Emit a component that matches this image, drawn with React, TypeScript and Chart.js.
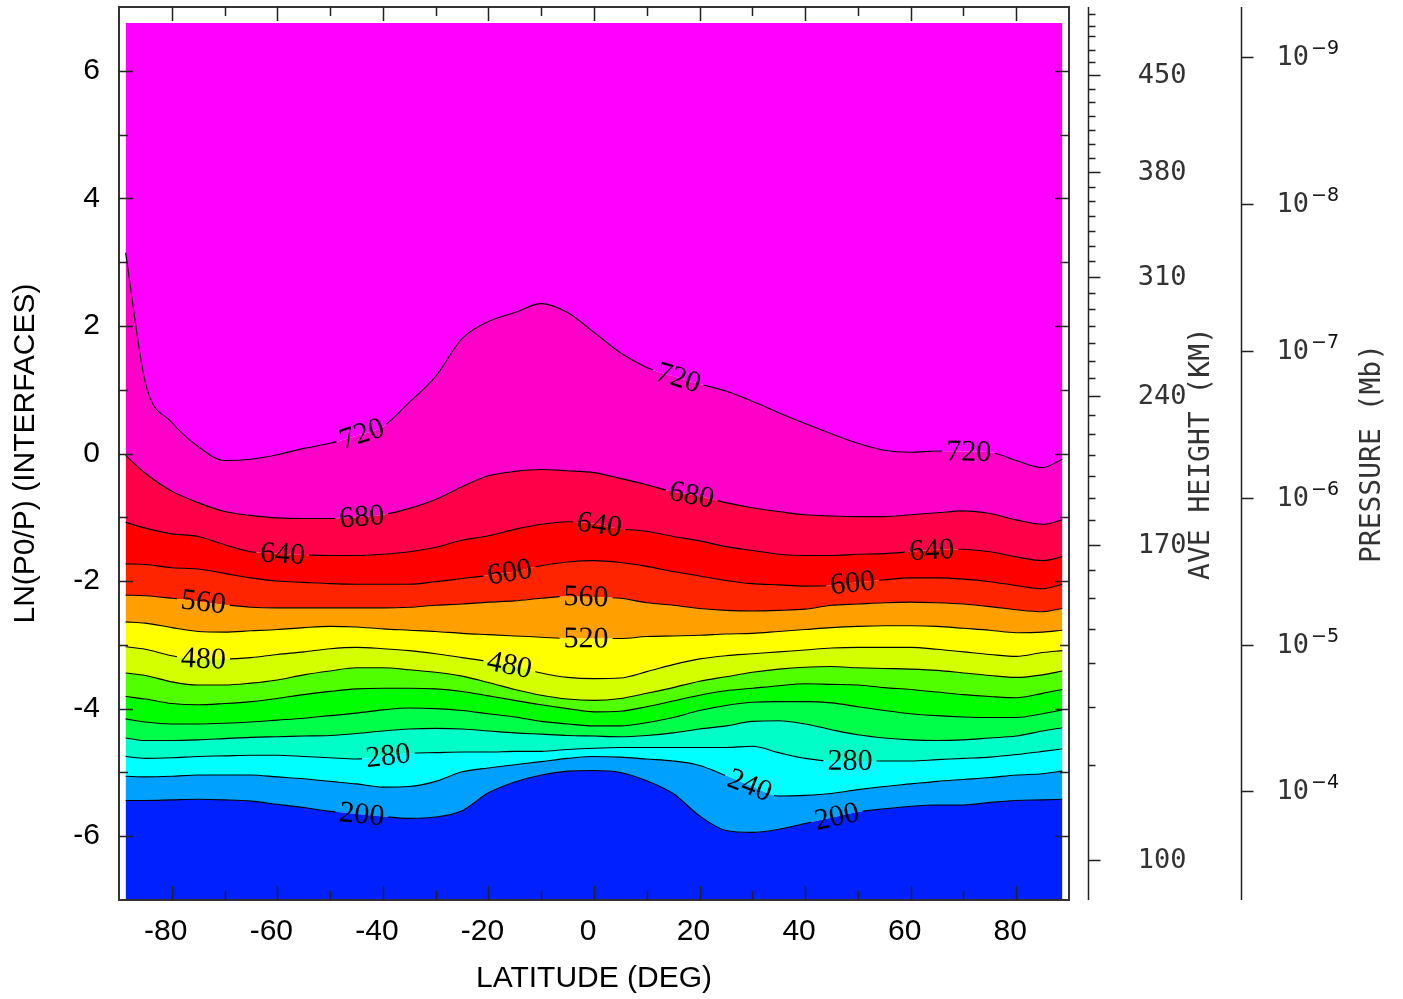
import React, { useEffect, useRef } from "react";
import { Chart, registerables } from "chart.js";

Chart.register(...registerables);

// ---------------- data ----------------
const LAT = [-88.75, -85, -80, -75, -70, -65, -60, -55, -50, -45, -40, -35, -30, -25, -20, -15, -10, -5, 0, 5, 10, 15, 20, 25, 30, 35, 40, 45, 50, 55, 60, 65, 70, 75, 80, 85, 88.75];

const LEVELS = [200, 240, 280, 320, 360, 400, 440, 480, 520, 560, 600, 640, 680, 720];

const Z200 = [-5.44, -5.44, -5.43, -5.42, -5.43, -5.45, -5.50, -5.55, -5.61, -5.65, -5.69, -5.72, -5.70, -5.60, -5.32, -5.15, -5.04, -4.98, -4.97, -5.00, -5.13, -5.33, -5.68, -5.91, -5.94, -5.89, -5.80, -5.71, -5.62, -5.57, -5.53, -5.51, -5.51, -5.47, -5.44, -5.43, -5.42];
const Z240 = [-5.06, -5.07, -5.06, -5.04, -5.04, -5.04, -5.07, -5.10, -5.14, -5.18, -5.23, -5.22, -5.14, -4.99, -4.93, -4.88, -4.83, -4.78, -4.75, -4.76, -4.79, -4.82, -4.89, -5.05, -5.22, -5.37, -5.36, -5.33, -5.27, -5.22, -5.18, -5.14, -5.11, -5.08, -5.04, -5.02, -4.98];
const Z280 = [-4.75, -4.78, -4.77, -4.75, -4.74, -4.73, -4.73, -4.75, -4.77, -4.79, -4.75, -4.70, -4.69, -4.68, -4.68, -4.67, -4.67, -4.64, -4.62, -4.61, -4.61, -4.61, -4.61, -4.61, -4.59, -4.69, -4.78, -4.82, -4.82, -4.82, -4.82, -4.80, -4.78, -4.76, -4.72, -4.67, -4.63];
const Z320 = [-4.46, -4.50, -4.50, -4.49, -4.47, -4.45, -4.44, -4.43, -4.42, -4.39, -4.35, -4.32, -4.31, -4.32, -4.35, -4.38, -4.40, -4.42, -4.43, -4.44, -4.42, -4.38, -4.32, -4.27, -4.20, -4.19, -4.24, -4.33, -4.41, -4.46, -4.49, -4.50, -4.49, -4.46, -4.43, -4.35, -4.30];
const Z360 = [-4.16, -4.21, -4.24, -4.24, -4.23, -4.21, -4.18, -4.15, -4.11, -4.07, -4.02, -3.99, -4.00, -4.03, -4.08, -4.13, -4.20, -4.24, -4.27, -4.27, -4.22, -4.14, -4.03, -3.95, -3.90, -3.89, -3.89, -3.91, -3.97, -4.03, -4.08, -4.11, -4.13, -4.14, -4.14, -4.08, -4.02];
const Z400 = [-3.81, -3.85, -3.92, -3.94, -3.92, -3.89, -3.84, -3.78, -3.73, -3.69, -3.68, -3.68, -3.69, -3.73, -3.80, -3.87, -3.94, -4.00, -4.05, -4.04, -3.97, -3.88, -3.79, -3.72, -3.68, -3.64, -3.61, -3.62, -3.63, -3.67, -3.70, -3.74, -3.78, -3.81, -3.83, -3.76, -3.70];
const Z440 = [-3.44, -3.48, -3.58, -3.63, -3.63, -3.60, -3.55, -3.47, -3.41, -3.36, -3.36, -3.39, -3.43, -3.49, -3.59, -3.70, -3.79, -3.85, -3.87, -3.84, -3.76, -3.67, -3.57, -3.50, -3.43, -3.38, -3.35, -3.34, -3.36, -3.37, -3.38, -3.40, -3.44, -3.48, -3.51, -3.47, -3.41];
const Z480 = [-3.03, -3.07, -3.17, -3.22, -3.22, -3.20, -3.15, -3.11, -3.06, -3.04, -3.06, -3.09, -3.14, -3.20, -3.26, -3.33, -3.44, -3.51, -3.53, -3.52, -3.42, -3.31, -3.22, -3.17, -3.14, -3.11, -3.08, -3.05, -3.04, -3.04, -3.04, -3.07, -3.11, -3.15, -3.18, -3.12, -3.09];
const Z520 = [-2.64, -2.66, -2.73, -2.79, -2.80, -2.78, -2.76, -2.73, -2.71, -2.72, -2.75, -2.77, -2.79, -2.82, -2.84, -2.86, -2.88, -2.90, -2.90, -2.90, -2.87, -2.86, -2.85, -2.83, -2.82, -2.79, -2.76, -2.73, -2.71, -2.70, -2.70, -2.71, -2.74, -2.77, -2.81, -2.80, -2.77];
const Z560 = [-2.22, -2.23, -2.27, -2.32, -2.37, -2.41, -2.42, -2.42, -2.42, -2.42, -2.42, -2.41, -2.38, -2.36, -2.33, -2.31, -2.27, -2.24, -2.25, -2.27, -2.34, -2.38, -2.43, -2.46, -2.47, -2.46, -2.44, -2.38, -2.36, -2.34, -2.33, -2.34, -2.36, -2.40, -2.45, -2.48, -2.43];
const Z600 = [-1.73, -1.74, -1.79, -1.81, -1.88, -1.95, -2.00, -2.02, -2.04, -2.05, -2.05, -2.05, -2.01, -1.96, -1.91, -1.85, -1.76, -1.70, -1.68, -1.71, -1.77, -1.85, -1.92, -1.99, -2.04, -2.06, -2.08, -2.07, -2.02, -1.98, -1.95, -1.95, -1.97, -2.01, -2.07, -2.12, -2.05];
const Z640 = [-1.08, -1.17, -1.26, -1.30, -1.43, -1.54, -1.57, -1.59, -1.60, -1.60, -1.58, -1.54, -1.47, -1.36, -1.29, -1.19, -1.11, -1.07, -1.10, -1.18, -1.22, -1.30, -1.37, -1.46, -1.52, -1.58, -1.60, -1.60, -1.58, -1.57, -1.54, -1.51, -1.50, -1.54, -1.62, -1.68, -1.62];
const Z680 = [-0.03, -0.31, -0.59, -0.77, -0.91, -0.97, -1.01, -1.02, -1.02, -1.00, -0.96, -0.86, -0.72, -0.52, -0.35, -0.28, -0.25, -0.27, -0.30, -0.39, -0.49, -0.60, -0.67, -0.77, -0.85, -0.91, -0.96, -0.98, -0.99, -0.99, -0.96, -0.93, -0.90, -0.94, -1.04, -1.11, -1.04];
const Z720 = [3.15, 1.11, 0.49, 0.11, -0.11, -0.09, -0.02, 0.08, 0.16, 0.28, 0.42, 0.80, 1.21, 1.80, 2.07, 2.21, 2.35, 2.21, 1.90, 1.58, 1.35, 1.21, 1.09, 0.98, 0.82, 0.64, 0.47, 0.31, 0.16, 0.05, 0.02, 0.04, 0.03, 0.02, -0.11, -0.22, -0.09];

const CONTOURS = [Z200, Z240, Z280, Z320, Z360, Z400, Z440, Z480, Z520, Z560, Z600, Z640, Z680, Z720];

// band colours: below first level ... above last level
const BAND_COLORS = ["#0020FF", "#00A0FF", "#00FFFF", "#00FFC8", "#00FF48", "#00FF00", "#50FF00", "#D4FF00", "#FFFF00", "#FFA000", "#FF2400", "#FF0000", "#FF0048", "#FF00C8", "#FF00FF"];

const Z_BOTTOM = -7;
const Z_TOP = 6.75;

const X_TICKS = [-80, -60, -40, -20, 0, 20, 40, 60, 80];
const Y_TICKS = [-6, -4, -2, 0, 2, 4, 6];

const HEIGHT_KM = [100, 110, 120, 130, 140, 150, 160, 170, 180, 190, 200, 210, 220, 230, 240, 250, 260, 270, 280, 290, 300, 310, 320, 330, 340, 350, 360, 370, 380, 390, 400, 410, 420, 430, 440, 450, 460, 470, 480, 490, 500];
const HEIGHT_Z = [-6.37, -4.88, -3.97, -3.29, -2.75, -2.26, -1.82, -1.43, -1.05, -0.69, -0.36, -0.02, 0.30, 0.60, 0.90, 1.19, 1.45, 1.74, 2.00, 2.26, 2.51, 2.77, 3.02, 3.25, 3.49, 3.72, 3.96, 4.18, 4.41, 4.63, 4.85, 5.07, 5.29, 5.51, 5.72, 5.93, 6.13, 6.32, 6.54, 6.70, 6.89];
const HEIGHT_LABELED = [100, 170, 240, 310, 380, 450];

const PRESSURE_EXP = [-9, -8, -7, -6, -5, -4];
const P0_MB = 5e-7;

const CONTOUR_LABELS = [
  { level: 720, lat: -44 }, { level: 720, lat: 16 }, { level: 720, lat: 71 },
  { level: 680, lat: -44 }, { level: 680, lat: 18.5 },
  { level: 640, lat: -59 }, { level: 640, lat: 1 }, { level: 640, lat: 64 },
  { level: 600, lat: -16 }, { level: 600, lat: 49 },
  { level: 560, lat: -74 }, { level: 560, lat: -1.5 },
  { level: 520, lat: -1.5 },
  { level: 480, lat: -74 }, { level: 480, lat: -16 },
  { level: 280, lat: -39 }, { level: 280, lat: 48.5 },
  { level: 240, lat: 29.5 },
  { level: 200, lat: -44 }, { level: 200, lat: 46 },
];

// ---------------- styling ----------------
const AXIS_FONT = '"Liberation Sans", Arial, sans-serif';
const LABEL_FONT = '30px "Liberation Serif", "Times New Roman", serif';
const RIGHT_FONT = '"DejaVu Sans Mono", monospace';

function interpAt(zs: number[], lat: number): number {
  if (lat <= LAT[0]) return zs[0];
  for (let i = 0; i < LAT.length - 1; i++) {
    if (lat >= LAT[i] && lat <= LAT[i + 1]) {
      const t = (lat - LAT[i]) / (LAT[i + 1] - LAT[i]);
      return zs[i] + t * (zs[i + 1] - zs[i]);
    }
  }
  return zs[zs.length - 1];
}

function labelGeom(chart: any, lab: { level: number; lat: number }) {
  const zs = CONTOURS[LEVELS.indexOf(lab.level)];
  const xs = chart.scales.x;
  const ys = chart.scales.y;
  const cx = xs.getPixelForValue(lab.lat);
  const cy = ys.getPixelForValue(interpAt(zs, lab.lat));
  const x1 = xs.getPixelForValue(lab.lat - 4);
  const y1 = ys.getPixelForValue(interpAt(zs, lab.lat - 4));
  const x2 = xs.getPixelForValue(lab.lat + 4);
  const y2 = ys.getPixelForValue(interpAt(zs, lab.lat + 4));
  const a = Math.atan2(y2 - y1, x2 - x1);
  const ctx = chart.ctx;
  ctx.save();
  ctx.font = LABEL_FONT;
  const w = ctx.measureText(String(lab.level)).width;
  ctx.restore();
  return { cx, cy, a, w };
}

const decorPlugin = {
  id: "contourDecor",
  beforeDatasetDraw(chart: any, args: any) {
    const ds = chart.data.datasets[args.index];
    if (!ds.isContour) return;
    const ctx = chart.ctx;
    ctx.save();
    ctx.beginPath();
    ctx.rect(0, 0, chart.width, chart.height);
    CONTOUR_LABELS.filter((l) => l.level === ds.level).forEach((l) => {
      const g = labelGeom(chart, l);
      const hw = g.w / 2 + 4;
      const hh = 14;
      const c = Math.cos(g.a);
      const s = Math.sin(g.a);
      const corners = [[-hw, -hh], [hw, -hh], [hw, hh], [-hw, hh]].map(([u, v]) => [g.cx + u * c - v * s, g.cy + u * s + v * c]);
      ctx.moveTo(corners[0][0], corners[0][1]);
      for (let i = 1; i < 4; i++) ctx.lineTo(corners[i][0], corners[i][1]);
      ctx.closePath();
    });
    ctx.clip("evenodd");
  },
  afterDatasetDraw(chart: any, args: any) {
    const ds = chart.data.datasets[args.index];
    if (ds.isContour) chart.ctx.restore();
  },
  afterDatasetsDraw(chart: any) {
    const ctx = chart.ctx;
    CONTOUR_LABELS.forEach((l) => {
      const g = labelGeom(chart, l);
      ctx.save();
      ctx.translate(g.cx, g.cy);
      ctx.rotate(g.a);
      ctx.font = LABEL_FONT;
      ctx.fillStyle = "#000";
      ctx.textAlign = "center";
      ctx.textBaseline = "middle";
      ctx.fillText(String(l.level), 0, 1);
      ctx.restore();
    });
  },
  afterDraw(chart: any) {
    const ctx = chart.ctx;
    const ca = chart.chartArea;
    const xs = chart.scales.x;
    const ys = chart.scales.y;
    ctx.save();
    // frame
    ctx.strokeStyle = "#333";
    ctx.lineWidth = 2;
    ctx.strokeRect(ca.left, ca.top, ca.right - ca.left, ca.bottom - ca.top);
    // inward ticks
    ctx.strokeStyle = "#222";
    ctx.lineWidth = 1.5;
    ctx.beginPath();
    for (let v = -80; v <= 80; v += 10) {
      const px = Math.round(xs.getPixelForValue(v)) + 0.5;
      const len = v % 20 === 0 ? 14 : 9;
      ctx.moveTo(px, ca.bottom); ctx.lineTo(px, ca.bottom - len);
      ctx.moveTo(px, ca.top); ctx.lineTo(px, ca.top + len);
    }
    for (let v = -6; v <= 6; v += 1) {
      const py = Math.round(ys.getPixelForValue(v)) + 0.5;
      const len = v % 2 === 0 ? 14 : 9;
      ctx.moveTo(ca.left, py); ctx.lineTo(ca.left + len, py);
      ctx.moveTo(ca.right, py); ctx.lineTo(ca.right - len, py);
    }
    ctx.stroke();

    // height axis
    const hx = ca.right + 19.5;
    ctx.strokeStyle = "#222";
    ctx.lineWidth = 1.5;
    ctx.beginPath();
    ctx.moveTo(hx, ca.top); ctx.lineTo(hx, ca.bottom);
    HEIGHT_KM.forEach((h, i) => {
      const py = Math.round(ys.getPixelForValue(HEIGHT_Z[i])) + 0.5;
      const len = HEIGHT_LABELED.includes(h) ? 12 : 7;
      ctx.moveTo(hx, py); ctx.lineTo(hx + len, py);
    });
    ctx.stroke();
    ctx.fillStyle = "#333";
    ctx.font = `27px ${RIGHT_FONT}`;
    ctx.textAlign = "right";
    ctx.textBaseline = "middle";
    HEIGHT_KM.forEach((h, i) => {
      if (!HEIGHT_LABELED.includes(h)) return;
      ctx.fillText(String(h), hx + 98, ys.getPixelForValue(HEIGHT_Z[i]) + 1);
    });
    const midY = (ca.top + ca.bottom) / 2;
    ctx.save();
    ctx.translate(ca.right + 133, midY);
    ctx.rotate(-Math.PI / 2);
    ctx.textAlign = "center";
    ctx.font = `28px ${RIGHT_FONT}`;
    ctx.fillText("AVE HEIGHT (KM)", 0, 0);
    ctx.restore();

    // pressure axis
    const px0 = ca.right + 172.5;
    ctx.beginPath();
    ctx.moveTo(px0, ca.top); ctx.lineTo(px0, ca.bottom);
    PRESSURE_EXP.forEach((k) => {
      const z = Math.log(P0_MB / Math.pow(10, k));
      const py = Math.round(ys.getPixelForValue(z)) + 0.5;
      ctx.moveTo(px0, py); ctx.lineTo(px0 + 12, py);
    });
    ctx.stroke();
    PRESSURE_EXP.forEach((k) => {
      const z = Math.log(P0_MB / Math.pow(10, k));
      const py = ys.getPixelForValue(z);
      ctx.textAlign = "left";
      ctx.textBaseline = "middle";
      ctx.font = `27px ${RIGHT_FONT}`;
      ctx.fillText("10", px0 + 35, py + 1);
      const w10 = ctx.measureText("10").width;
      ctx.fillStyle = "#111";
      ctx.font = '19px "DejaVu Sans", sans-serif';
      ctx.fillText("\u2212" + String(Math.abs(k)), px0 + 35 + w10 + 2, py - 8);
      ctx.fillStyle = "#333";
    });
    ctx.save();
    ctx.translate(ca.right + 304, midY);
    ctx.rotate(-Math.PI / 2);
    ctx.textAlign = "center";
    ctx.textBaseline = "middle";
    ctx.font = `28px ${RIGHT_FONT}`;
    ctx.fillText("PRESSURE (Mb)", 0, 0);
    ctx.restore();
    ctx.restore();
  },
};

export default function App() {
  const ref = useRef<HTMLCanvasElement | null>(null);

  useEffect(() => {
    if (!ref.current) return;
    const pts = (zs: number[]) => LAT.map((x, i) => ({ x, y: zs[i] }));
    const common = { pointRadius: 0, cubicInterpolationMode: "monotone" as const };
    const fillSets: any[] = [];
    fillSets.push({ ...common, data: LAT.map((x) => ({ x, y: Z_BOTTOM })), fill: false, borderColor: "transparent", borderWidth: 0, order: 1 });
    CONTOURS.forEach((zs, i) => {
      fillSets.push({ ...common, data: pts(zs), fill: "-1", backgroundColor: BAND_COLORS[i], borderColor: "transparent", borderWidth: 0, order: 1 });
    });
    fillSets.push({ ...common, data: LAT.map((x) => ({ x, y: Z_TOP })), fill: "-1", backgroundColor: BAND_COLORS[BAND_COLORS.length - 1], borderColor: "transparent", borderWidth: 0, order: 1 });
    const lineSets = CONTOURS.map((zs, i) => ({
      ...common,
      data: pts(zs),
      fill: false,
      borderColor: "#000",
      borderWidth: 1.1,
      order: 0,
      isContour: true,
      level: LEVELS[i],
    }));

    const chart = new Chart(ref.current, {
      type: "line",
      data: { datasets: [...fillSets, ...lineSets] },
      options: {
        responsive: false,
        maintainAspectRatio: false,
        devicePixelRatio: 1,
        animation: false,
        events: [],
        layout: { padding: { left: 0, right: 334, top: 7, bottom: 0 } },
        plugins: { legend: { display: false }, tooltip: { enabled: false } },
        scales: {
          x: {
            type: "linear",
            min: -90,
            max: 90,
            position: "bottom",
            afterBuildTicks: (s: any) => { s.ticks = X_TICKS.map((v) => ({ value: v })); },
            afterFit: (s: any) => { s.height = 99; s.paddingLeft = 0; s.paddingRight = 0; },
            grid: { display: false, drawTicks: false },
            border: { display: false },
            ticks: { font: { family: AXIS_FONT, size: 30 }, color: "#000", padding: 14, labelOffset: -6, maxRotation: 0, autoSkip: false },
            title: { display: true, text: "LATITUDE (DEG)", font: { family: AXIS_FONT, size: 30 }, color: "#000", padding: { top: 0, bottom: 2 } },
          },
          y: {
            type: "linear",
            min: -7,
            max: 7,
            position: "left",
            afterBuildTicks: (s: any) => { s.ticks = Y_TICKS.map((v) => ({ value: v })); },
            afterFit: (s: any) => { s.width = 119; s.paddingTop = 0; s.paddingBottom = 0; },
            grid: { display: false, drawTicks: false },
            border: { display: false },
            ticks: { font: { family: AXIS_FONT, size: 30 }, color: "#000", padding: 19 },
            title: { display: true, text: "LN(P0/P) (INTERFACES)", font: { family: AXIS_FONT, size: 30 }, color: "#000", padding: { top: 8, bottom: 0 } },
          },
        },
      } as any,
      plugins: [decorPlugin as any],
    });
    return () => chart.destroy();
  }, []);

  return (
    <div style={{ position: "fixed", left: 0, top: 0, width: 1403, height: 999, background: "#fff" }}>
      <canvas ref={ref} width={1403} height={999} style={{ display: "block", width: 1403, height: 999 }} />
    </div>
  );
}
